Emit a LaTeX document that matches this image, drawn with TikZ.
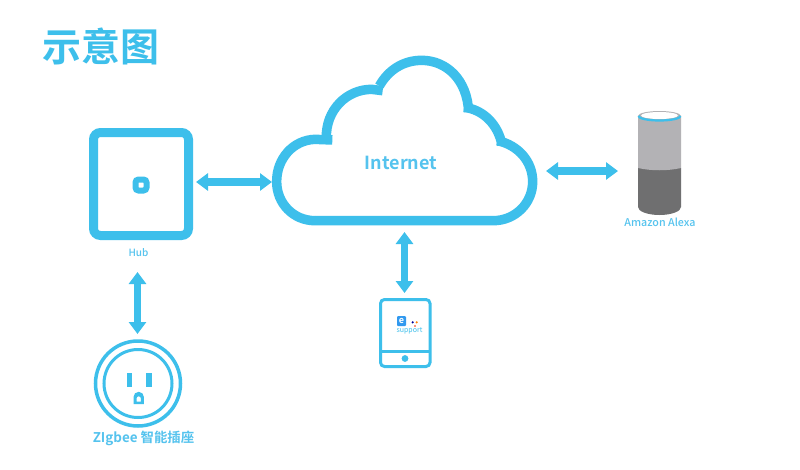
\documentclass[tikz,border=0pt]{standalone}
\usepackage{fontspec}
\setmainfont{Noto Sans CJK SC}[BoldFont={Noto Sans CJK SC Bold}]
\newfontfamily\medfont{Noto Sans CJK SC Medium}
\usetikzlibrary{arrows.meta}
\definecolor{sky}{HTML}{3DBFEB}
\definecolor{labelblue}{HTML}{55C3EE}
\definecolor{lightgrey}{HTML}{B3B2B5}
\definecolor{darkgrey}{HTML}{6F6F70}
\tikzset{
  x=1pt,y=-1pt,
  twoway/.style={draw=sky,line width=7.5pt,{Triangle[length=12pt,width=17pt]}-{Triangle[length=12pt,width=17pt]}},
  smalllabel/.style={text=labelblue,inner sep=0pt,font=\medfont\fontsize{10pt}{12pt}\selectfont},
  anchorpt/.style={inner sep=0pt,minimum size=0pt},
  cloudline/.style={sky,line width=9.5pt,line cap=butt,line join=round},
}
\begin{document}
\begin{tikzpicture}
\useasboundingbox (0,0) rectangle (800,469);
\fill[white] (0,0) rectangle (800,469);
% title
\node[text=sky,inner sep=0pt,font=\bfseries\fontsize{39pt}{41pt}\selectfont] (title) at (100.5,46) {示意图};
% hub
\draw[sky,line width=9pt,rounded corners=7pt] (93.5,132.5) rectangle (188.5,235.5);
\draw[sky,line width=6pt,rounded corners=3pt] (135.5,179.5) rectangle (146.5,190.5);
\node[anchorpt,minimum width=104pt,minimum height=112pt] (hub) at (141,184) {};
\node[smalllabel] (hublabel) at (138.5,253) {Hub};
% cloud (coordinates in thirds of a pixel)
\begin{scope}[shift={(260,50)},x=.33333pt,y=-.33333pt]
\draw[cloudline] (165,512) .. controls (100,512) and (50,460) .. (50,395)
  .. controls (50,325) and (100,270) .. (165,268) -- (217,270);
\draw[cloudline] (199,264) .. controls (197,180) and (260,118) .. (335,118) -- (368,122);
\draw[cloudline] (358,108) .. controls (385,60) and (430,31) .. (485,31)
  .. controls (560,31) and (622,90) .. (626,186);
\draw[cloudline] (612,172) .. controls (670,178) and (715,225) .. (726,285);
\draw[cloudline] (712,272) .. controls (775,285) and (818,335) .. (818,395)
  .. controls (818,460) and (765,512) .. (700,512) -- (165,512);
\end{scope}
\node[anchorpt,minimum width=265pt,minimum height=170pt] (cloud) at (404.5,140) {};
\node[text=labelblue,inner sep=0pt,font=\bfseries\fontsize{18pt}{20pt}\selectfont] (net) at (401,163) {Internet};
% alexa
\fill[darkgrey] (638,168) -- (681,168) -- (681,207) arc[start angle=360,end angle=180,x radius=21.5pt,y radius=8pt] -- cycle;
\fill[lightgrey] (638,117) -- (681,117) -- (681,168) .. controls (668,171) and (651,171) .. (638,168) -- cycle;
\fill[lightgrey] (659.5,116) ellipse[x radius=21.5pt,y radius=5pt];
\fill[white] (659.5,115.5) ellipse[x radius=18.5pt,y radius=3.5pt];
\draw[sky,line width=2.2pt] (638.5,116) arc[start angle=180,end angle=360,x radius=21pt,y radius=4.5pt];
\node[anchorpt,minimum width=46pt,minimum height=106pt] (alexa) at (659.5,164) {};
\node[smalllabel,font=\medfont\fontsize{10.7pt}{12pt}\selectfont] (alexalabel) at (660,222) {Amazon Alexa};
% phone
\draw[sky,line width=3pt,rounded corners=4pt] (380.5,299.5) rectangle (430,366.5);
\draw[sky,line width=3pt] (380.5,351) -- (430,351);
\fill[sky] (405,358.5) circle[radius=3.4pt];
\fill[sky!80!blue,rounded corners=1pt] (397,316) rectangle (406,326);
\node[text=white,inner sep=0pt,font=\bfseries\fontsize{9pt}{9pt}\selectfont] (elogo) at (401.5,320.5) {e};
\fill[blue!60!black] (412.7,322.3) circle[radius=1.2pt];
\fill[orange] (416.7,322.3) circle[radius=1.2pt];
\fill[red!70!orange] (415,326) circle[radius=.9pt];
\node[text=sky,inner sep=0pt,font=\fontsize{7pt}{7pt}\selectfont] (supp) at (409.5,330.5) {support};
\node[anchorpt,minimum width=52pt,minimum height=70pt] (phone) at (405,333) {};
% socket
\draw[sky,line width=3.5pt] (138,383.5) circle[radius=42.5pt];
\draw[sky,line width=3pt] (138,383.5) circle[radius=34pt];
\fill[sky] (127,373) rectangle (132,387);
\fill[sky] (146,373) rectangle (151.5,387);
\fill[sky,even odd rule] (133.5,404) -- (133.5,397) arc[start angle=180,end angle=0,radius=5.2pt] -- (143.9,404) -- cycle
  (136.5,401.5) -- (136.5,398.5) arc[start angle=180,end angle=0,radius=2.2pt] -- (140.9,401.5) -- cycle;
\node[anchorpt,minimum width=88pt,minimum height=88pt] (socket) at (138,383.5) {};
\node[text=labelblue,inner sep=0pt,font=\bfseries\fontsize{13.4pt}{15pt}\selectfont] (socketlabel) at (143.5,438) {ZIgbee 智能插座};
% connectors
\coordinate (h1) at (196,182);
\coordinate (h2) at (272,182);
\draw[twoway] (h1) -- (h2);
\coordinate (c1) at (546,171);
\coordinate (c2) at (618,171);
\draw[twoway] (c1) -- (c2);
\coordinate (c3) at (404.5,232);
\coordinate (c4) at (404.5,293);
\draw[twoway] (c3) -- (c4);
\coordinate (c5) at (137.5,272);
\coordinate (c6) at (137.5,334);
\draw[twoway] (c5) -- (c6);
\end{tikzpicture}
\end{document}
